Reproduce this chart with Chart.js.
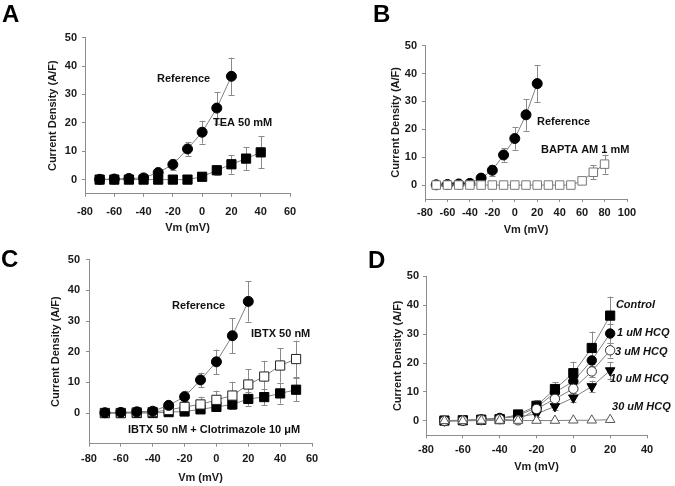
<!DOCTYPE html>
<html><head><meta charset="utf-8">
<script src="https://cdn.jsdelivr.net/npm/chart.js@4.4.0/dist/chart.umd.min.js"></script>
<style>
html,body{margin:0;padding:0;background:#fff;width:675px;height:486px;overflow:hidden;position:relative;}
canvas{position:absolute;}
.letter{position:absolute;font:bold 24px "Liberation Sans",Arial,sans-serif;color:#000;line-height:1;}
</style></head><body>
<canvas id="cA" style="left:0;top:0" width="337" height="243"></canvas>
<canvas id="cB" style="left:337px;top:0" width="338" height="243"></canvas>
<canvas id="cC" style="left:0;top:243px" width="337" height="243"></canvas>
<canvas id="cD" style="left:337px;top:243px" width="338" height="243"></canvas>
<div class="letter" style="left:2px;top:2px">A</div>
<div class="letter" style="left:373px;top:2px">B</div>
<div class="letter" style="left:1px;top:247px">C</div>
<div class="letter" style="left:368px;top:248px">D</div>
<script>
// ---- data ----
const refX   = [-70,-60,-50,-40,-30,-20,-10,0,10,20];
const refY   = [0.1,0.2,0.4,0.6,2.5,5.3,10.8,16.7,25.2,36.4];
const refErr = [0.2,0.2,0.3,0.4,1.2,2.0,2.4,4.0,5.7,6.6];

const teaX   = [-70,-60,-50,-40,-30,-20,-10,0,10,20,30,40];
const teaY   = [0,0,0,0,0,0,0,1.0,3.3,5.4,7.4,9.6];
const teaErr = [0,0,0,0,0,0,0,0.7,1.6,3.3,4.1,5.6];

const baptaX   = [-70,-60,-50,-40,-30,-20,-10,0,10,20,30,40,50,60,70,80];
const baptaY   = [0,0,0,0,0,0,0,0,0,0,0,0,0,1.5,4.6,7.5];
const baptaErr = [0,0,0,0,0,0,0,0,0,0,0,0,0,0.4,2.5,3.4];

const ibtxX   = [-70,-60,-50,-40,-30,-20,-10,0,10,20,30,40,50];
const ibtxY   = [0,0,0.2,0.3,1.0,2.0,2.8,4.3,5.7,9.3,11.9,15.5,17.6];
const ibtxErr = [0,0,0.2,0.3,0.8,1.8,2.5,3.0,4.5,4.9,5.1,5.6,6.0];
const clotY   = [0,0,0,0,0.3,0.5,1.2,2.0,2.8,4.6,5.2,6.4,7.6];
const clotErr = [0,0,0,0,0.3,0.5,1.0,1.2,1.5,2.2,2.6,3.3,3.7];

const hcqX     = [-70,-60,-50,-40,-30,-20,-10,0,10,20];
const ctrlY    = [0.1,0.2,0.4,0.6,2.2,5.2,11.0,16.5,25.2,36.4];
const ctrlErr  = [0.2,0.2,0.3,0.4,1.2,2.0,2.4,4.0,5.7,6.6];
const hcq1Y    = [0,0.1,0.5,1.0,1.8,4.6,9.8,13.7,20.9,30.2];
const hcq1Err  = [0,0,0.2,0.3,0.8,1.5,2.0,2.5,2.8,3.2];
const hcq3Y    = [0,0.1,0.4,0.6,0.2,4.1,7.6,11.1,17.1,24.4];
const hcq3Err  = [0,0,0.2,0.3,0.5,1.2,1.5,2.0,2.0,2.5];
const hcq10Y   = [0,0.1,0.4,1.0,1.4,2.4,5.0,8.0,11.9,17.4];
const hcq10Err = [0,0,0.2,0.3,0.6,1.0,1.2,1.5,2.0,3.0];
const hcq30Y   = [0,0,0.1,0.1,0.1,0.1,0.1,0.2,0.2,0.4];

const yTicks  = [0,10,20,30,40,50];
const xTicksA = [-80,-60,-40,-20,0,20,40,60];
const xTicksB = [-80,-60,-40,-20,0,20,40,60,80,100];
const xTicksC = [-80,-60,-40,-20,0,20,40,60];
const xTicksD = [-80,-60,-40,-20,0,20,40];

// ---- helpers ----
const FONT = '"Liberation Sans", Arial, sans-serif';
const LINE = '#808080';
const AXIS = '#8c8c8c';
const pts = (xs, ys) => xs.map((x, i) => ({x: x, y: ys[i]}));

const errorBars = {
  id: 'errorBars',
  beforeDatasetsDraw(chart) {
    const ctx = chart.ctx, ys = chart.scales.y;
    chart.data.datasets.forEach((ds, i) => {
      if (!ds.errors) return;
      const meta = chart.getDatasetMeta(i);
      ctx.save();
      ctx.strokeStyle = '#8a8a8a'; ctx.lineWidth = 1;
      meta.data.forEach((p, j) => {
        const e = ds.errors[j]; if (!e) return;
        const v = ds.data[j].y;
        const yT = ys.getPixelForValue(v + e), yB = ys.getPixelForValue(v - e);
        const x = Math.round(p.x) + 0.5;
        ctx.beginPath();
        ctx.moveTo(x, yT); ctx.lineTo(x, yB);
        ctx.moveTo(x - 3, Math.round(yT) + 0.5); ctx.lineTo(x + 3, Math.round(yT) + 0.5);
        ctx.moveTo(x - 3, Math.round(yB) + 0.5); ctx.lineTo(x + 3, Math.round(yB) + 0.5);
        ctx.stroke();
      });
      ctx.restore();
    });
  }
};
const notes = {
  id: 'notes',
  afterDatasetsDraw(chart, args, opts) {
    const ctx = chart.ctx, xs = chart.scales.x, ys = chart.scales.y;
    ctx.save();
    ctx.fillStyle = '#111'; ctx.textAlign = 'left'; ctx.textBaseline = 'middle';
    (opts.items || []).forEach(it => {
      ctx.font = (it.italic ? 'italic ' : '') + 'bold 11px ' + FONT;
      ctx.fillText(it.text, xs.getPixelForValue(it.x), ys.getPixelForValue(it.y));
    });
    ctx.restore();
  }
};

function series(xs, ys, errs, style) {
  return Object.assign({
    data: pts(xs, ys), errors: errs, borderColor: LINE, borderWidth: 1,
    showLine: true, tension: 0, pointBorderWidth: 1, clip: false
  }, style);
}
const FILL_CIRCLE = {pointStyle: 'circle', pointRadius: 5, pointBackgroundColor: '#000', pointBorderColor: '#000'};
const FILL_SQUARE = {pointStyle: 'rect', pointRadius: 6.5, pointBackgroundColor: '#000', pointBorderColor: '#000'};

function makeChart(id, p) {
  const W = p.W, H = p.H;
  new Chart(document.getElementById(id), {
    type: 'scatter',
    data: {datasets: p.datasets},
    plugins: [errorBars, notes],
    options: {
      responsive: false, animation: false, events: [],
      layout: {padding: {left: 0, right: W - p.area.r, top: p.area.t, bottom: 0}},
      plugins: {legend: {display: false}, tooltip: {enabled: false}, notes: {items: p.notes}},
      scales: {
        x: {
          type: 'linear', min: p.xMin, max: p.xMax,
          afterBuildTicks: s => { s.ticks = p.xTicks.map(v => ({value: v})); },
          afterFit: s => { s.height = H - p.area.b; },
          grid: {drawOnChartArea: false, drawTicks: true, tickLength: 3, color: AXIS},
          border: {display: true, color: AXIS, width: 1},
          ticks: {padding: p.xPad, color: '#1a1a1a', font: {family: FONT, size: 11, weight: 'bold'}, maxRotation: 0, autoSkip: false},
          title: {display: true, text: 'Vm (mV)', color: '#1a1a1a', font: {family: FONT, size: 11, weight: 'bold'},
                  padding: {top: 0, bottom: H - p.xTitleY - 6.6}}
        },
        y: {
          type: 'linear', min: p.yMin, max: 50,
          afterBuildTicks: s => { s.ticks = yTicks.map(v => ({value: v})); },
          afterFit: s => { s.width = p.area.l; },
          grid: {drawOnChartArea: false, drawTicks: true, tickLength: 3, color: AXIS},
          border: {display: true, color: AXIS, width: 1},
          ticks: {padding: p.yPad, color: '#1a1a1a', font: {family: FONT, size: 11, weight: 'bold'}},
          title: {display: true, text: 'Current Density (A/F)', color: '#1a1a1a', font: {family: FONT, size: 11, weight: 'bold'},
                  padding: {top: p.yTitleX - 6.6, bottom: 0}}
        }
      }
    }
  });
}

makeChart('cA', {
  W: 337, H: 243, area: {l: 85, r: 290, t: 37.7, b: 193.8}, xMin: -80, xMax: 60, yMin: -5,
  xTicks: xTicksA, xPad: 9, yPad: 5, yTitleX: 53, xTitleY: 228.3,
  datasets: [
    series(refX, refY, refErr, FILL_CIRCLE),
    series(teaX, teaY, teaErr, FILL_SQUARE)
  ],
  notes: [{text: 'Reference', x: -30.8, y: 35.4}, {text: 'TEA 50 mM', x: 7.4, y: 20}]
});
makeChart('cB', {
  W: 338, H: 243, area: {l: 88, r: 290, t: 45.7, b: 199}, xMin: -80, xMax: 100, yMin: -5,
  xTicks: xTicksB, xPad: 4, yPad: 5, yTitleX: 58.5, xTitleY: 230,
  datasets: [
    series(baptaX, baptaY, baptaErr, {pointStyle: 'rect', pointRadius: 6, pointBackgroundColor: '#fff', pointBorderColor: '#777'}),
    series(refX, refY, refErr, FILL_CIRCLE)
  ],
  notes: [{text: 'Reference', x: 19.8, y: 22.6}, {text: 'BAPTA AM 1 mM', x: 23.4, y: 12.6}]
});
makeChart('cC', {
  W: 337, H: 243, area: {l: 89, r: 312, t: 16.7, b: 200.7}, xMin: -80, xMax: 60, yMin: -10,
  xTicks: xTicksC, xPad: 6, yPad: 6, yTitleX: 55.5, xTitleY: 235,
  datasets: [
    series(refX, refY, refErr, FILL_CIRCLE),
    series(ibtxX, ibtxY, ibtxErr, {pointStyle: 'rect', pointRadius: 6.5, pointBackgroundColor: '#fff', pointBorderColor: '#222'}),
    series(ibtxX, clotY, clotErr, FILL_SQUARE)
  ],
  notes: [{text: 'Reference', x: -27.9, y: 34.9}, {text: 'IBTX 50 nM', x: 21.7, y: 25.8},
          {text: 'IBTX 50 nM + Clotrimazole 10 \u03bcM', x: -55.5, y: -5.5}]
});
makeChart('cD', {
  W: 338, H: 243, area: {l: 89, r: 310, t: 33.3, b: 192.3}, xMin: -80, xMax: 40, yMin: -5,
  xTicks: xTicksD, xPad: 5, yPad: 4, yTitleX: 60.5, xTitleY: 224,
  datasets: [
    series(hcqX, hcq30Y, null, {pointStyle: 'triangle', pointRadius: 5.5, pointBackgroundColor: '#fff', pointBorderColor: '#555'}),
    series(hcqX, hcq3Y, hcq3Err, {pointStyle: 'circle', pointRadius: 4.7, pointBackgroundColor: '#fff', pointBorderColor: '#333'}),
    series(hcqX, ctrlY, ctrlErr, FILL_SQUARE),
    series(hcqX, hcq1Y, hcq1Err, {pointStyle: 'circle', pointRadius: 4.7, pointBackgroundColor: '#000', pointBorderColor: '#000'}),
    series(hcqX, hcq10Y, hcq10Err, {pointStyle: 'triangle', pointRotation: 180, pointRadius: 5.5, pointBackgroundColor: '#000', pointBorderColor: '#000'})
  ],
  notes: [{text: 'Control', x: 23.1, y: 40, italic: true}, {text: '1 uM HCQ', x: 23.7, y: 30.4, italic: true},
          {text: '3 uM HCQ', x: 22.6, y: 23.8, italic: true}, {text: '10 uM HCQ', x: 19.9, y: 14.4, italic: true},
          {text: '30 uM HCQ', x: 21, y: 4.7, italic: true}]
});
</script>
</body></html>
